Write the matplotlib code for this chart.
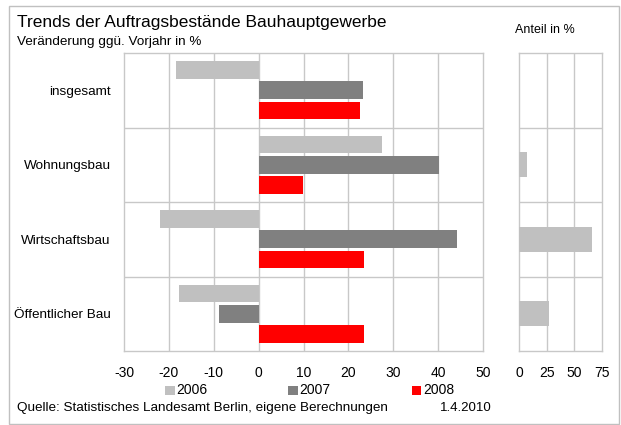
import matplotlib
matplotlib.use("Agg")
import matplotlib.pyplot as plt
from matplotlib.patches import Rectangle
import numpy as np

plt.rcParams['font.family'] = ['Liberation Sans', 'DejaVu Sans']

# Data
categories = ["insgesamt", "Wohnungsbau", "Wirtschaftsbau", "Öffentlicher Bau"]
years = ["2006", "2007", "2008"]
change_2006 = [-18.5, 27.4, -22.0, -17.8]
change_2007 = [23.2, 40.3, 44.3, -8.9]
change_2008 = [22.5, 9.8, 23.4, 23.4]
share = [0.0, 7.0, 65.9, 27.2]
main_ticks = [-30, -20, -10, 0, 10, 20, 30, 40, 50]
share_ticks = [0, 25, 50, 75]

colors = ["#c0c0c0", "#808080", "#ff0000"]
grid_c = "#c8c8c8"

W, H = 621, 425
fig = plt.figure(figsize=(W / 100, H / 100), dpi=100)

def fx(px):
    return px / W

def fy(py):
    return 1 - py / H

# outer frame
fig.patches.append(Rectangle((fx(8.5), fy(424)), fx(619) - fx(8.5), fy(5.5) - fy(424),
                             transform=fig.transFigure, fill=False,
                             edgecolor="#c0c0c0", linewidth=1.0))

ax = fig.add_axes([fx(124), fy(351), fx(483) - fx(124), fy(53) - fy(351)])
ax2 = fig.add_axes([fx(519), fy(351), fx(602) - fx(519), fy(53) - fy(351)])

y = np.arange(len(categories))
bh = 0.235
offs = [-0.27, 0.0, 0.27]
for vals, c, o in zip([change_2006, change_2007, change_2008], colors, offs):
    ax.barh(y + o, vals, height=bh, color=c, zorder=3)

ax2.barh(y, share, height=0.34, color=colors[0], zorder=3)

for a in (ax, ax2):
    a.set_ylim(3.5, -0.5)
    for s in a.spines.values():
        s.set_color(grid_c)
        s.set_linewidth(1.0)
    for b in [0.5, 1.5, 2.5]:
        a.axhline(b, color=grid_c, linewidth=1.0, zorder=1)
    a.tick_params(length=0, labelsize=10, colors="#000000")

ax.set_xlim(-30, 50)
ax.set_xticks(main_ticks)
ax.set_xticklabels([str(t) for t in main_ticks])
for t in main_ticks[1:-1]:
    ax.axvline(t, color=grid_c, linewidth=1.0, zorder=1)
ax.set_yticks(y)
ax.set_yticklabels(categories, fontsize=9.7)
ax.tick_params(axis="x", pad=11)
ax.tick_params(axis="y", pad=9.5)

ax2.set_xlim(0, 75)
ax2.set_xticks(share_ticks)
ax2.set_xticklabels([str(t) for t in share_ticks])
for t in share_ticks[1:-1]:
    ax2.axvline(t, color=grid_c, linewidth=1.0, zorder=1)
ax2.set_yticks([])
ax2.tick_params(axis="x", pad=11)

# Titles
fig.text(fx(17), fy(22), "Trends der Auftragsbestände Bauhauptgewerbe",
         fontsize=12.5, va="center", ha="left")
fig.text(fx(17), fy(42), "Veränderung ggü. Vorjahr in %",
         fontsize=9.7, va="center", ha="left")
fig.text(fx(545), fy(30), "Anteil in %", fontsize=9, va="center", ha="center")

# Legend
leg_x = [165, 288, 412]
for lx, c, lab in zip(leg_x, colors, years):
    fig.patches.append(Rectangle((fx(lx), fy(395)), fx(9.5), fy(385.5) - fy(395),
                                 transform=fig.transFigure, facecolor=c,
                                 edgecolor="none"))
    fig.text(fx(lx + 11.5), fy(390), lab, fontsize=10, va="center", ha="left")

# Source and date
fig.text(fx(17), fy(408), "Quelle: Statistisches Landesamt Berlin, eigene Berechnungen",
         fontsize=9.7, va="center", ha="left")
fig.text(fx(440), fy(408), "1.4.2010", fontsize=9.5, va="center", ha="left")

fig.savefig("out.png", dpi=100)
